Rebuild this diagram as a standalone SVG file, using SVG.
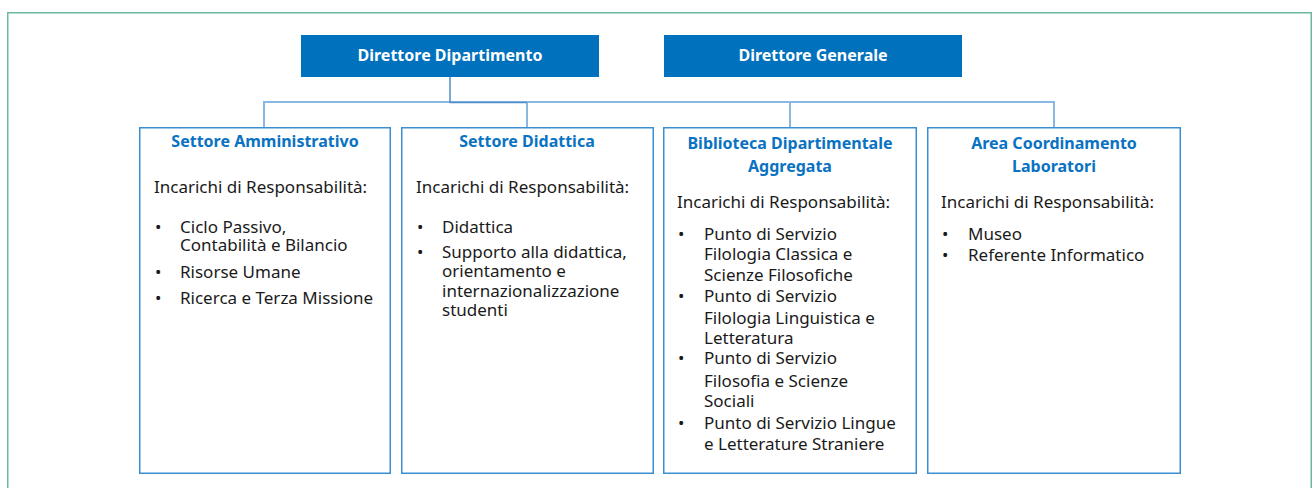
<svg xmlns="http://www.w3.org/2000/svg" width="1312" height="488" viewBox="0 0 1312 488">
<defs>
<style>
.frame{fill:#ffffff;stroke:#6bb8a0;stroke-width:1.5}
.dir{fill:#0071bc}
.dirt{font-family:"Noto Sans","Open Sans",sans-serif;font-weight:bold;font-size:16px;fill:#ffffff;text-anchor:middle}
.box{fill:#ffffff;stroke:#3a8fd0;stroke-width:1.5}
.title{font-family:"Noto Sans","Open Sans",sans-serif;font-weight:bold;font-size:16px;fill:#0a72c2;text-anchor:middle}
.body{font-family:"Noto Sans","Open Sans",sans-serif;font-size:17px;fill:#1a1a1a}
.conn{fill:none;stroke:#8ab8e2;stroke-width:2}
.conn2{fill:none;stroke:#4f8fc9;stroke-width:1.5}
</style>
</defs>
<rect class="frame" x="7.75" y="12.75" width="1303.5" height="490"/>
<g id="connectors">
<path class="conn" d="M264,127 V102 H1054 V127 M527,102 V127 M790,102 V127"/>
<path class="conn2" d="M450,77 V102.5 H527"/>
</g>
<g id="direttore-dipartimento">
<rect class="dir" x="301" y="35" width="298" height="42"/>
<text class="dirt" x="450" y="61">Direttore Dipartimento</text>
</g>
<g id="direttore-generale">
<rect class="dir" x="664" y="35" width="298" height="42"/>
<text class="dirt" x="813" y="61">Direttore Generale</text>
</g>
<g id="settore-amministrativo">
<rect class="box" x="139.75" y="127.75" width="250.5" height="345.5"/>
<text class="title" x="265" y="147">Settore Amministrativo</text>
<text class="body" x="154" y="193">Incarichi di Responsabilità:</text>
<text class="body" x="155" y="233">•</text>
<text class="body" x="180" y="233">Ciclo Passivo,</text>
<text class="body" x="180" y="251">Contabilità e Bilancio</text>
<text class="body" x="155" y="278">•</text>
<text class="body" x="180" y="278">Risorse Umane</text>
<text class="body" x="155" y="304">•</text>
<text class="body" x="180" y="304">Ricerca e Terza Missione</text>
</g>
<g id="settore-didattica">
<rect class="box" x="401.75" y="127.75" width="251.5" height="345.5"/>
<text class="title" x="527" y="147">Settore Didattica</text>
<text class="body" x="416" y="193">Incarichi di Responsabilità:</text>
<text class="body" x="417" y="233">•</text>
<text class="body" x="442" y="233">Didattica</text>
<text class="body" x="417" y="258">•</text>
<text class="body" x="442" y="258">Supporto alla didattica,</text>
<text class="body" x="442" y="277">orientamento e</text>
<text class="body" x="442" y="297">internazionalizzazione</text>
<text class="body" x="442" y="316">studenti</text>
</g>
<g id="biblioteca">
<rect class="box" x="663.75" y="127.75" width="252.5" height="345.5"/>
<text class="title" x="790" y="149">Biblioteca Dipartimentale</text>
<text class="title" x="790" y="172">Aggregata</text>
<text class="body" x="677" y="208">Incarichi di Responsabilità:</text>
<text class="body" x="678" y="240">•</text>
<text class="body" x="704" y="240">Punto di Servizio</text>
<text class="body" x="704" y="260">Filologia Classica e</text>
<text class="body" x="704" y="281">Scienze Filosofiche</text>
<text class="body" x="678" y="302">•</text>
<text class="body" x="704" y="302">Punto di Servizio</text>
<text class="body" x="704" y="324">Filologia Linguistica e</text>
<text class="body" x="704" y="344">Letteratura</text>
<text class="body" x="678" y="364">•</text>
<text class="body" x="704" y="364">Punto di Servizio</text>
<text class="body" x="704" y="387">Filosofia e Scienze</text>
<text class="body" x="704" y="407">Sociali</text>
<text class="body" x="678" y="429">•</text>
<text class="body" x="704" y="429">Punto di Servizio Lingue</text>
<text class="body" x="704" y="450">e Letterature Straniere</text>
</g>
<g id="area-laboratori">
<rect class="box" x="927.75" y="127.75" width="252.5" height="345.5"/>
<text class="title" x="1054" y="149">Area Coordinamento</text>
<text class="title" x="1054" y="172">Laboratori</text>
<text class="body" x="941" y="208">Incarichi di Responsabilità:</text>
<text class="body" x="942" y="240">•</text>
<text class="body" x="968" y="240">Museo</text>
<text class="body" x="942" y="261">•</text>
<text class="body" x="968" y="261">Referente Informatico</text>
</g>
</svg>
